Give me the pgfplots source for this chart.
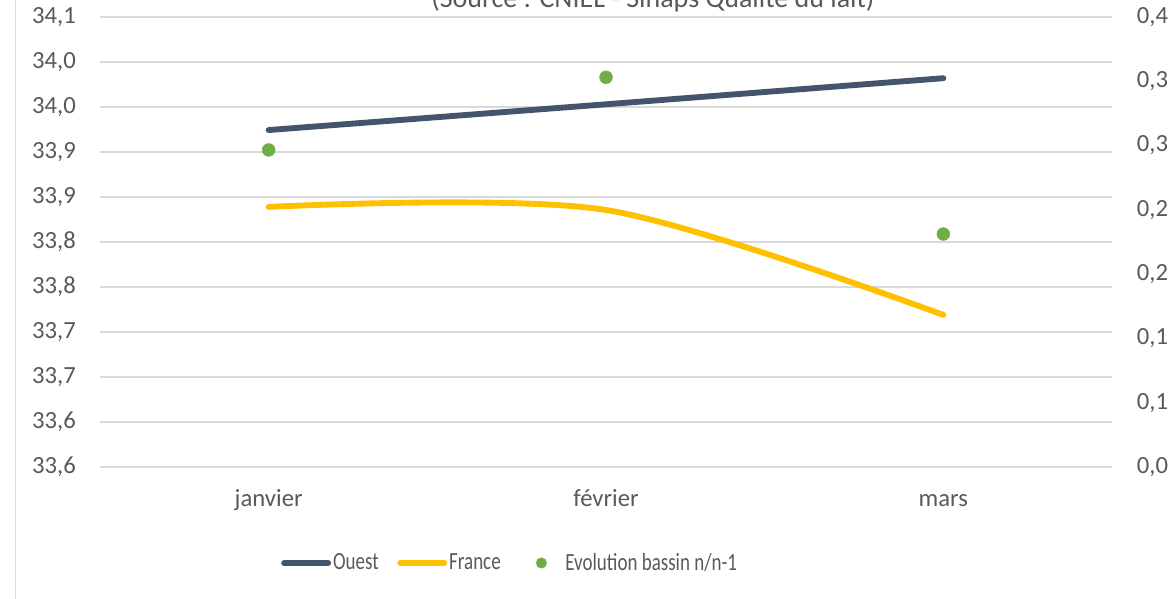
\documentclass[border=0pt]{standalone}
\usepackage{pgfplots}
\pgfplotsset{compat=1.18}
\usepackage{graphicx}
\usepackage{fontspec}
\setmainfont{Carlito}
\definecolor{ouest}{HTML}{44546A}
\definecolor{france}{HTML}{FFC000}
\definecolor{evol}{HTML}{70AD47}
\definecolor{gridc}{HTML}{D9D9D9}
\definecolor{txt}{HTML}{595959}
\newcommand{\tickfont}{\fontsize{18.5}{22}\selectfont\color{txt}}
\begin{document}
\begin{tikzpicture}
\path[use as bounding box] (0,0) rectangle (876pt,449.25pt);
\clip (0,0) rectangle (876pt,449.25pt);
\draw[gridc, line width=1.2pt] (11.6pt,0) -- (11.6pt,449.25pt);
\node[anchor=base, font=\fontsize{21}{25}\selectfont, text=txt, inner sep=0pt] at (489.75pt,443.6pt) {(Source : CNIEL - Sinaps Qualité du lait)};
\begin{axis}[
  at={(75pt,99pt)}, anchor=south west,
  scale only axis, width=759pt, height=337.5pt,
  xmin=-0.5, xmax=2.5, ymin=33.6, ymax=34.1,
  xtick={0,1,2}, xticklabels={janvier,février,mars},
  ytick={33.6,33.65,33.7,33.75,33.8,33.85,33.9,33.95,34.0,34.05,34.1},
  yticklabels={{33,6},{33,6},{33,7},{33,7},{33,8},{33,8},{33,9},{33,9},{34,0},{34,0},{34,1}},
  axis line style={draw=none},
  major tick length=0pt,
  ymajorgrids, grid style={gridc, line width=1.5pt},
  tick label style={font=\tickfont},
  yticklabel style={anchor=east, inner sep=0pt, xshift=-18pt},
  xticklabel style={anchor=base, inner sep=0pt, yshift=-30pt},
  legend columns=3,
  legend style={at={(0.1788,-0.2133)}, anchor=west, draw=none, fill=none, inner sep=0pt,
    font=\tickfont, nodes={inner sep=1.5pt, anchor=west},
    /tikz/every even column/.append style={column sep=12.5pt}},
]
\addplot[ouest, line width=4.4pt, line cap=round,
  legend image code/.code={\draw[ouest, line width=4.4pt, line cap=round] (0pt,0pt) -- (33pt,0pt);}]
  coordinates {(0,33.9744) (1,34.003) (2,34.032)};
\addlegendentry{\scalebox{0.77}[1]{Ouest}}
\addplot[france, line width=4.4pt, line cap=round, smooth,
  legend image code/.code={\draw[france, line width=4.4pt, line cap=round] (0pt,0pt) -- (33pt,0pt);}]
  coordinates {(0,33.889) (1,33.8856) (2,33.769)};
\addlegendentry{\scalebox{0.77}[1]{France}}
\addlegendimage{legend image code/.code={\path[draw=none] (0pt,0pt) -- (33pt,0pt); \fill[evol] (16.5pt,0pt) circle (3.9pt);}}
\addlegendentry{\scalebox{0.77}[1]{Evolution bassin n/n-1}}
\end{axis}
\begin{axis}[
  at={(75pt,99pt)}, anchor=south west,
  scale only axis, width=759pt, height=337.5pt,
  xmin=-0.5, xmax=2.5, ymin=0, ymax=0.35,
  hide x axis,
  axis y line*=right,
  axis line style={draw=none},
  major tick length=0pt,
  ytick={0,0.05,0.1,0.15,0.2,0.25,0.3,0.35},
  yticklabels={{0,0},{0,1},{0,1},{0,2},{0,2},{0,3},{0,3},{0,4}},
  tick label style={font=\tickfont},
  yticklabel style={anchor=west, inner sep=0pt, xshift=18.5pt},
]
\addplot[only marks, mark=*, mark size=4.8pt, evol, mark options={draw=evol, fill=evol}]
  coordinates {(0,0.2466) (1,0.3031) (2,0.1812)};
\end{axis}
\end{tikzpicture}
\end{document}
